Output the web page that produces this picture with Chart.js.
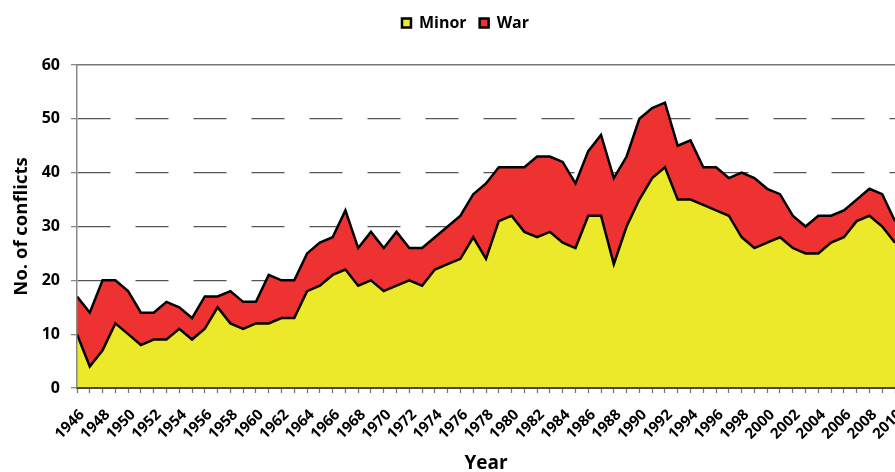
<!DOCTYPE html>
<html>
<head>
<meta charset="utf-8">
<script src="https://cdn.jsdelivr.net/npm/chart.js@4.4.1/dist/chart.umd.min.js"></script>
<style>
	body { margin: 0; background: #fff; }
	#wrap { width: 895px; height: 472px; }
</style>
</head>
<body>
<div id="wrap"><canvas id="conflictChart"></canvas></div>
<script>
var years = ['1946','1947','1948','1949','1950','1951','1952','1953','1954','1955','1956','1957','1958','1959','1960',
	'1961','1962','1963','1964','1965','1966','1967','1968','1969','1970','1971','1972','1973','1974','1975',
	'1976','1977','1978','1979','1980','1981','1982','1983','1984','1985','1986','1987','1988','1989','1990',
	'1991','1992','1993','1994','1995','1996','1997','1998','1999','2000','2001','2002','2003','2004','2005',
	'2006','2007','2008','2009','2010'];

// minor conflicts per year
var minor = [10,4,7,12,10,8,9,9,11,9,11,15,12,11,12,
	12,13,13,18,19,21,22,19,20,18,19,20,19,22,23,
	24,28,24,31,32,29,28,29,27,26,32,32,23,30,35,
	39,41,35,35,34,33,32,28,26,27,28,26,25,25,27,
	28,31,32,30,27];

// wars per year (stacked on top of minor)
var war = [7,10,13,8,8,6,5,7,4,4,6,2,6,5,4,
	9,7,7,7,8,7,11,7,9,8,10,6,7,6,7,
	8,8,14,10,9,12,15,14,15,12,12,15,16,13,15,
	13,12,10,11,7,8,7,12,13,10,8,6,5,7,5,
	5,4,5,6,4];

var yTicks = [0,10,20,30,40,50,60];

var bold = function(size) {
	return { family: "'Open Sans', sans-serif", weight: 'bold', size: size };
};

var chartdata = {
	labels: years,
	datasets: [
		{
			label: 'Minor',
			data: minor,
			backgroundColor: '#ece92b',
			borderColor: '#000',
			borderWidth: 2.5,
			fill: 'origin',
			pointRadius: 0,
			tension: 0
		},
		{
			label: 'War',
			data: war,
			backgroundColor: '#ee3131',
			borderColor: '#000',
			borderWidth: 2.5,
			fill: '-1',
			pointRadius: 0,
			tension: 0
		}
	]
};

var ctx = document.getElementById('conflictChart');

var areaChart = new Chart(ctx, {
	type: 'line',
	data: chartdata,
	options: {
		responsive: true,
		maintainAspectRatio: false,
		animation: false,
		// left padding only pushes the legend to the right, y axis is squeezed to fit
		layout: { padding: { top: 2, right: 0, left: 36, bottom: 0 } },
		plugins: {
			tooltip: { enabled: false },
			legend: {
				position: 'top',
				labels: {
					font: bold(16),
					color: '#000',
					boxWidth: 9,
					boxHeight: 9,
					padding: 13
				}
			}
		},
		scales: {
			x: {
				ticks: {
					autoSkip: false,
					minRotation: 45,
					maxRotation: 45,
					color: '#000',
					font: bold(15),
					padding: 13,
					labelOffset: 5,
					callback: function(v, i) {
						return i % 2 === 0 ? this.getLabelForValue(v) : '';
					}
				},
				grid: { drawOnChartArea: false, drawTicks: true, tickLength: 5, tickColor: '#777', tickWidth: 1.3 },
				border: { display: true, color: '#444', width: 2, z: 1 },
				title: { display: true, text: 'Year', color: '#000', font: bold(19), padding: { top: 0, bottom: -3 } },
				afterFit: function(s) {
					s.height = 84;
					s.paddingRight = 0;
				}
			},
			xTop: {
				type: 'category',
				position: 'top',
				ticks: { display: false },
				grid: { display: false, drawTicks: false },
				border: { display: true, color: '#777', width: 1.5 },
				afterFit: function(s) {
					s.height = 24;
				}
			},
			y: {
				stacked: true,
				min: 0,
				max: 60,
				afterBuildTicks: function(s) {
					s.ticks = yTicks.map(function(v) { return { value: v }; });
				},
				ticks: { color: '#000', font: bold(16), padding: 11 },
				grid: {
					color: function(c) {
						if (!c.tick) return '#555';
						return (c.tick.value === 0 || c.tick.value === 60) ? 'rgba(0,0,0,0)' : '#555';
					},
					lineWidth: 1.3,
					drawTicks: true,
					tickLength: 6,
					tickColor: '#888',
					tickWidth: 1.3,
					tickBorderDash: []
				},
				border: { display: true, color: '#888', width: 1.5, dash: [33, 25], z: 1 },
				title: { display: true, text: 'No. of conflicts', color: '#000', font: bold(18.5), padding: { top: -25, bottom: 0 } },
				afterFit: function(s) {
					s.width = 41;
				}
			}
		}
	}
});
</script>
</body>
</html>
